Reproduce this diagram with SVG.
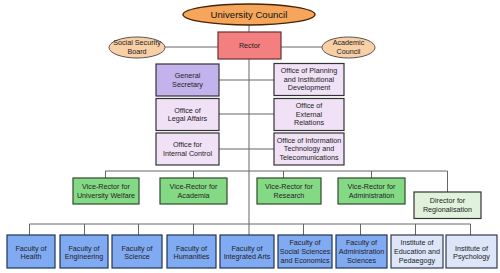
<svg xmlns="http://www.w3.org/2000/svg" width="500" height="273" viewBox="0 0 500 273">
<style>
text{font-family:"Liberation Sans",Arial,sans-serif;font-size:7.2px;fill:#222;text-anchor:middle}
.t{font-size:9.6px;fill:#111}
.c line{stroke:#666;stroke-width:1;fill:none}
.b{stroke:#333;stroke-width:1.2}
.uc{fill:#F5A65B;stroke:#4a2208;stroke-width:1.4}
.el{fill:#F9CFA6;stroke:#555;stroke-width:1}
.rec{fill:#F47F80;stroke:#6a3030;stroke-width:1.2}
.gs{fill:#C3B3EC}
.of{fill:#F0E1F6}
.vr{fill:#84DA84;stroke:#2e4a2e}
.dr{fill:#E1F2DC}
.fa{fill:#80AAF2;stroke:#223355}
.in{fill:#DCE6F8;stroke:#333a55}
</style>
<g id="connectors" class="c">
<line x1="249" y1="25" x2="249" y2="235"/>
<line x1="165" y1="47" x2="218" y2="47"/>
<line x1="281" y1="47" x2="322" y2="47"/>
<line x1="219" y1="80" x2="274" y2="80"/>
<line x1="219" y1="114" x2="274" y2="114"/>
<line x1="219" y1="149" x2="274" y2="149"/>
<line x1="105.5" y1="171" x2="447.5" y2="171"/>
<line x1="105.5" y1="171" x2="105.5" y2="178"/>
<line x1="193.5" y1="171" x2="193.5" y2="178"/>
<line x1="283.5" y1="171" x2="283.5" y2="178"/>
<line x1="371.5" y1="171" x2="371.5" y2="178"/>
<line x1="447.5" y1="171" x2="447.5" y2="192"/>
<line x1="29.5" y1="224" x2="470.5" y2="224"/>
<line x1="29.5" y1="224" x2="29.5" y2="235"/>
<line x1="84.5" y1="224" x2="84.5" y2="235"/>
<line x1="138.5" y1="224" x2="138.5" y2="235"/>
<line x1="193.5" y1="224" x2="193.5" y2="235"/>
<line x1="303.5" y1="224" x2="303.5" y2="235"/>
<line x1="360.5" y1="224" x2="360.5" y2="235"/>
<line x1="415.5" y1="224" x2="415.5" y2="235"/>
<line x1="470.5" y1="224" x2="470.5" y2="235"/>
</g>
<g id="university-council"><ellipse class="uc" cx="249" cy="14.5" rx="66" ry="10.5"/><text class="t" x="249" y="18">University Council</text></g>
<g id="social-security-board"><ellipse class="el" cx="137" cy="47.5" rx="28" ry="10.5"/><text x="137" y="45"><tspan x="137">Social Security</tspan><tspan x="137" dy="8.6">Board</tspan></text></g>
<g id="academic-council"><ellipse class="el" cx="348.5" cy="47.5" rx="26.5" ry="10.5"/><text x="348.5" y="45"><tspan x="348.5">Academic</tspan><tspan x="348.5" dy="8.6">Council</tspan></text></g>
<g id="rector"><rect class="rec" x="218" y="32" width="63" height="27"/><text x="249.5" y="48">Rector</text></g>
<g id="general-secretary"><rect class="b gs" x="156" y="64" width="63" height="32"/><text x="187.5" y="78"><tspan x="187.5">General</tspan><tspan x="187.5" dy="8.6">Secretary</tspan></text></g>
<g id="legal-affairs"><rect class="b of" x="156" y="98.5" width="63" height="32"/><text x="187.5" y="112.5"><tspan x="187.5">Office of</tspan><tspan x="187.5" dy="8.6">Legal Affairs</tspan></text></g>
<g id="internal-control"><rect class="b of" x="156" y="133" width="63" height="32"/><text x="187.5" y="147"><tspan x="187.5">Office for</tspan><tspan x="187.5" dy="8.6">Internal Control</tspan></text></g>
<g id="planning"><rect class="b of" x="274" y="63.5" width="70" height="32"/><text x="309" y="73"><tspan x="309">Office of Planning</tspan><tspan x="309" dy="8.6">and Institutional</tspan><tspan x="309" dy="8.6">Development</tspan></text></g>
<g id="external-relations"><rect class="b of" x="274" y="98.5" width="70" height="32"/><text x="309" y="108"><tspan x="309">Office of</tspan><tspan x="309" dy="8.6">External</tspan><tspan x="309" dy="8.6">Relations</tspan></text></g>
<g id="it-office"><rect class="b of" x="274" y="133" width="70" height="32"/><text x="309" y="142.5"><tspan x="309">Office of Information</tspan><tspan x="309" dy="8.6">Technology and</tspan><tspan x="309" dy="8.6">Telecomunications</tspan></text></g>
<g id="vr-welfare"><rect class="b vr" x="73" y="178" width="66" height="26"/><text x="106" y="189"><tspan x="106">Vice-Rector for</tspan><tspan x="106" dy="8.6">University Welfare</tspan></text></g>
<g id="vr-academia"><rect class="b vr" x="160" y="178" width="67" height="26"/><text x="193.5" y="189"><tspan x="193.5">Vice-Rector for</tspan><tspan x="193.5" dy="8.6">Academia</tspan></text></g>
<g id="vr-research"><rect class="b vr" x="257" y="178" width="64" height="26"/><text x="289" y="189"><tspan x="289">Vice-Rector for</tspan><tspan x="289" dy="8.6">Research</tspan></text></g>
<g id="vr-administration"><rect class="b vr" x="338" y="178" width="67" height="26"/><text x="371.5" y="189"><tspan x="371.5">Vice-Rector for</tspan><tspan x="371.5" dy="8.6">Administration</tspan></text></g>
<g id="director-regionalisation"><rect class="b dr" x="414" y="192" width="67" height="26.5"/><text x="447.5" y="203"><tspan x="447.5">Director for</tspan><tspan x="447.5" dy="8.6">Regionalisation</tspan></text></g>
<g id="fac-health"><rect class="b fa" x="7" y="235" width="48" height="33"/><text x="31" y="250.5"><tspan x="31">Faculty of</tspan><tspan x="31" dy="8.6">Health</tspan></text></g>
<g id="fac-engineering"><rect class="b fa" x="60" y="235" width="48" height="33"/><text x="84" y="250.5"><tspan x="84">Faculty of</tspan><tspan x="84" dy="8.6">Engineering</tspan></text></g>
<g id="fac-science"><rect class="b fa" x="112" y="235" width="50" height="33"/><text x="137" y="250.5"><tspan x="137">Faculty of</tspan><tspan x="137" dy="8.6">Science</tspan></text></g>
<g id="fac-humanities"><rect class="b fa" x="167" y="235" width="49" height="33"/><text x="191.5" y="250.5"><tspan x="191.5">Faculty of</tspan><tspan x="191.5" dy="8.6">Humanities</tspan></text></g>
<g id="fac-integrated-arts"><rect class="b fa" x="220" y="235" width="54" height="33"/><text x="247" y="250.5"><tspan x="247">Faculty of</tspan><tspan x="247" dy="8.6">Integrated Arts</tspan></text></g>
<g id="fac-social-sciences"><rect class="b fa" x="278" y="235" width="54" height="33"/><text x="305" y="244.5"><tspan x="305">Faculty of</tspan><tspan x="305" dy="9">Social Sciences</tspan><tspan x="305" dy="9">and Economics</tspan></text></g>
<g id="fac-administration-sciences"><rect class="b fa" x="336" y="235" width="51" height="33"/><text x="361.5" y="244.5"><tspan x="361.5">Faculty of</tspan><tspan x="361.5" dy="9">Administration</tspan><tspan x="361.5" dy="9">Sciences</tspan></text></g>
<g id="inst-education"><rect class="b in" x="391" y="235" width="52" height="33"/><text x="417" y="244.5"><tspan x="417">Institute of</tspan><tspan x="417" dy="9">Education and</tspan><tspan x="417" dy="9">Pedaegogy</tspan></text></g>
<g id="inst-psychology"><rect class="b in" x="446" y="235" width="51" height="33"/><text x="471.5" y="250.5"><tspan x="471.5">Institute of</tspan><tspan x="471.5" dy="8.6">Psychology</tspan></text></g>
</svg>
